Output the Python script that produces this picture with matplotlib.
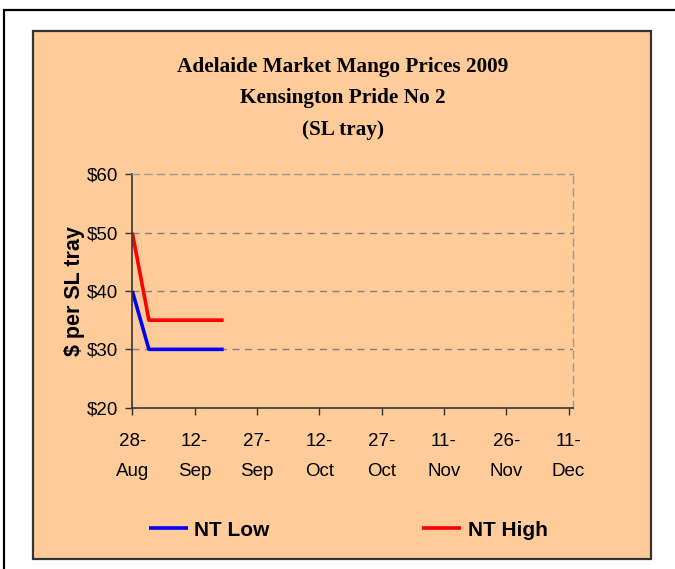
import datetime as dt
import matplotlib
matplotlib.use("Agg")
import matplotlib.pyplot as plt
import matplotlib.dates as mdates
from matplotlib.patches import Rectangle

# ---- data ----
dates = ["2009-08-28", "2009-09-01", "2009-09-05", "2009-09-12", "2009-09-19"]
nt_low = [40, 30, 30, 30, 30]
nt_high = [50, 35, 35, 35, 35]
tick_dates = ["2009-08-28", "2009-09-12", "2009-09-27", "2009-10-12",
              "2009-10-27", "2009-11-11", "2009-11-26", "2009-12-11"]
x_range = ["2009-08-28", "2009-12-12"]
y_ticks = [20, 30, 40, 50, 60]
title_lines = ["Adelaide Market Mango Prices 2009", "Kensington Pride No 2", "(SL tray)"]

W, H = 675, 569
fig = plt.figure(figsize=(W / 100, H / 100), dpi=100)
fig.patch.set_facecolor("white")


def fx(px):
    return px / W


def fy(py):
    return 1 - py / H


# outer border (only left/top visible)
fig.patches.append(Rectangle((fx(4), fy(700)), fx(800), fy(10) - fy(700),
                             transform=fig.transFigure, facecolor="none",
                             edgecolor="black", linewidth=1.6, zorder=0))
# chart panel
fig.patches.append(Rectangle((fx(33), fy(559)), fx(651) - fx(33), fy(31) - fy(559),
                             transform=fig.transFigure, facecolor="#FFCC99",
                             edgecolor="#333333", linewidth=1.6, zorder=1))

d = [mdates.date2num(dt.datetime.strptime(s, "%Y-%m-%d")) for s in dates]
td = [mdates.date2num(dt.datetime.strptime(s, "%Y-%m-%d")) for s in tick_dates]
xr = [mdates.date2num(dt.datetime.strptime(s, "%Y-%m-%d")) for s in x_range]

ax = fig.add_axes([fx(132.3), fy(407.7), fx(572.7) - fx(132.3), fy(174.3) - fy(407.7)])
ax.set_facecolor("none")
ax.set_zorder(2)

l1, = ax.plot(d, nt_low, color="#0000FF", linewidth=2.6, solid_capstyle="butt", label="NT Low")
l2, = ax.plot(d, nt_high, color="#FF0000", linewidth=2.6, solid_capstyle="butt", label="NT High")

ax.set_xlim(xr[0], xr[1])
ax.set_ylim(20, 60)
ax.set_yticks(y_ticks)
ax.set_yticklabels([f"${v}" for v in y_ticks], fontfamily="Liberation Sans", fontsize=13.5)
ax.set_xticks(td)
ax.set_xticklabels([dt.datetime.strptime(s, "%Y-%m-%d").strftime("%d-\n%b").lstrip("0")
                    for s in tick_dates],
                   fontfamily="Liberation Sans", fontsize=13.5, linespacing=2.0)
ax.tick_params(axis="both", direction="out", length=5, width=1, color="#333333")
ax.tick_params(axis="x", pad=13)
ax.tick_params(axis="y", pad=5)

for y in [30, 40, 50]:
    ax.axhline(y, color="#808080", linewidth=1, linestyle=(0, (5, 4)), zorder=1)

for s in ["left", "bottom"]:
    ax.spines[s].set_color("#333333")
    ax.spines[s].set_linewidth(1.2)
for s in ["top", "right"]:
    ax.spines[s].set_color("#999999")
    ax.spines[s].set_linewidth(1)
    ax.spines[s].set_linestyle((0, (5, 4)))

ax.set_ylabel("$ per SL tray", fontfamily="Liberation Sans", fontweight="bold",
              fontsize=15.5, labelpad=1.5)

# title
for txt, yy in zip(title_lines, [67, 98, 130]):
    fig.text(fx(343), fy(yy), txt, ha="center", va="center",
             fontfamily="Liberation Serif", fontweight="bold", fontsize=15.3, zorder=3)

leg = fig.legend(handles=[l1, l2], loc="center", bbox_to_anchor=(fx(348), fy(530)),
                 ncol=2, frameon=False, prop={"family": "Liberation Sans", "weight": "bold", "size": 15},
                 handlelength=1.9, handletextpad=0.3, columnspacing=7.3)

fig.savefig("out.png", dpi=100)
